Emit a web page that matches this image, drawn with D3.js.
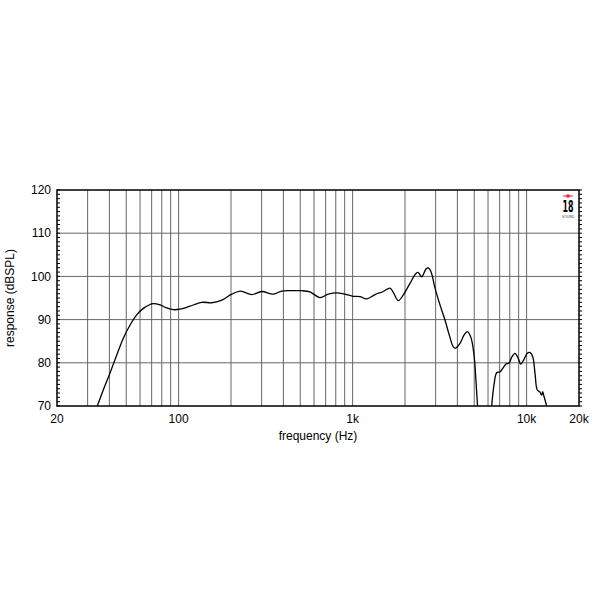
<!DOCTYPE html>
<html><head><meta charset="utf-8">
<script src="https://cdn.jsdelivr.net/npm/d3@7"></script>
<style>html,body{margin:0;padding:0;background:#fff;}</style>
</head><body>
<svg id="chart" width="600" height="600"></svg>
<script>
// ---- data ----
const freqLow = [34.1,36.9,40.3,44.1,48.1,52.6,57.4,62.7,68.5,71.5,78.2,85.4,93.2,101.8,116,136,155,177,202,227,263,300,350,391,437,510,569,649,725,810,904,1009,1103,1205,1345,1501,1640,1713,1831,1955,2137,2313,2384,2494,2640,2722,2821,2975,3178,3395,3594,3789,3912,4141,4366,4560,4772,4986,5118,5222];
const splLow  = [70,73.7,77.6,81.8,85.7,88.75,91.1,92.6,93.5,93.7,93.4,92.7,92.3,92.4,93.1,94.0,93.9,94.5,95.9,96.6,95.8,96.5,95.9,96.6,96.7,96.7,96.4,95.1,95.9,96.2,95.9,95.4,95.3,94.8,95.8,96.5,97.3,96.3,94.4,95.7,98.4,100.7,100.9,99.9,101.7,102.0,101.1,97.3,93.4,89.9,86.4,83.7,83.4,84.5,86.4,87.2,86.0,81.8,75.6,70];
const freqHigh = [6298,6494,6730,7031,7288,7615,7954,8210,8576,8958,9246,9660,10092,10458,10840,11174,11518,11940,12210,12374,12590,13048];
const splHigh  = [70,74.9,77.7,77.9,78.7,79.7,80.0,81.3,82.2,81.0,79.7,80.8,82.2,82.4,81.4,77.6,73.7,73.2,72.5,73.3,72.2,70];
const yTicks = [70,80,90,100,110,120];
const xTickValues = [20,100,1000,10000,20000];
const xTickLabels = ["20","100","1k","10k","20k"];
const xGrid = [30,40,50,60,70,80,90,100,200,300,400,500,600,700,800,900,1000,2000,3000,4000,5000,6000,7000,8000,9000,10000];
const xTitle = "frequency (Hz)";
const yTitle = "response (dBSPL)";

// ---- layout ----
const L = 57, R = 579, T = 190, B = 406;
const svg = d3.select("#chart");
const x = d3.scaleLog().domain([20,20000]).range([L,R]);
const y = d3.scaleLinear().domain([70,120]).range([B,T]);
const font = "'Liberation Sans', Arial, Helvetica, sans-serif";

// grid
svg.append("g").selectAll("line").data(xGrid).join("line")
  .attr("x1", d=>x(d)).attr("x2", d=>x(d)).attr("y1", T).attr("y2", B)
  .attr("stroke", "#666").attr("stroke-width", 1);
svg.append("g").selectAll("line").data(yTicks.slice(1,-1)).join("line")
  .attr("x1", L).attr("x2", R).attr("y1", d=>y(d)).attr("y2", d=>y(d))
  .attr("stroke", "#666").attr("stroke-width", 1);

// minor ticks every 1 dB
const minor = d3.range(70,121,1);
svg.append("g").selectAll("line").data(minor).join("line")
  .attr("x1", L).attr("x2", L+3).attr("y1", d=>y(d)).attr("y2", d=>y(d))
  .attr("stroke", "#000").attr("stroke-width", 1);
svg.append("g").selectAll("line").data(minor).join("line")
  .attr("x1", R).attr("x2", R+3).attr("y1", d=>y(d)).attr("y2", d=>y(d))
  .attr("stroke", "#000").attr("stroke-width", 1);

// curve
svg.append("clipPath").attr("id","clip").append("rect")
  .attr("x", L).attr("y", T).attr("width", R-L).attr("height", B-T);
const line = d3.line().x(d=>x(d[0])).y(d=>y(d[1])).curve(d3.curveCatmullRom.alpha(0.5));
const g = svg.append("g").attr("clip-path","url(#clip)");
[[freqLow,splLow],[freqHigh,splHigh]].forEach(([f,s])=>{
  g.append("path").datum(f.map((v,i)=>[v,s[i]]))
    .attr("d", line).attr("fill","none").attr("stroke","#000").attr("stroke-width",1.3);
});

// frame
svg.append("rect").attr("x", L).attr("y", T).attr("width", R-L).attr("height", B-T)
  .attr("fill","none").attr("stroke","#000").attr("stroke-width",1.5);

// y labels
svg.append("g").selectAll("text").data(yTicks).join("text")
  .attr("x", L-6).attr("y", d=>y(d)).attr("dy","0.35em")
  .attr("text-anchor","end").attr("font-family",font).attr("font-size",12)
  .text(d=>d);
// x labels
svg.append("g").selectAll("text").data(xTickValues).join("text")
  .attr("x", d=>x(d)).attr("y", B+17)
  .attr("text-anchor","middle").attr("font-family",font).attr("font-size",12)
  .text((d,i)=>xTickLabels[i]);

svg.append("text").attr("x", (L+R)/2 - 0).attr("y", 440).attr("text-anchor","middle")
  .attr("font-family",font).attr("font-size",12).text(xTitle);
svg.append("text").attr("transform",`translate(14,${(T+B)/2}) rotate(-90)`)
  .attr("text-anchor","middle").attr("font-family",font).attr("font-size",12).text(yTitle);

// logo
const lg = svg.append("g");
lg.append("line").attr("x1",563).attr("x2",573).attr("y1",196).attr("y2",196).attr("stroke","#e22").attr("stroke-width",1);
lg.append("circle").attr("cx",568).attr("cy",196).attr("r",1.8).attr("fill","#e22");
lg.append("text").attr("x",568).attr("y",212).attr("text-anchor","middle")
  .attr("font-family","'DejaVu Sans Condensed', 'Liberation Sans Narrow', sans-serif").attr("font-weight","bold")
  .attr("font-size",15).attr("textLength",11).attr("lengthAdjust","spacingAndGlyphs").text("18");
lg.append("text").attr("x",568).attr("y",218).attr("text-anchor","middle")
  .attr("font-family",font).attr("font-size",3.5).attr("fill","#444").text("SOUND");
</script>
</body></html>
